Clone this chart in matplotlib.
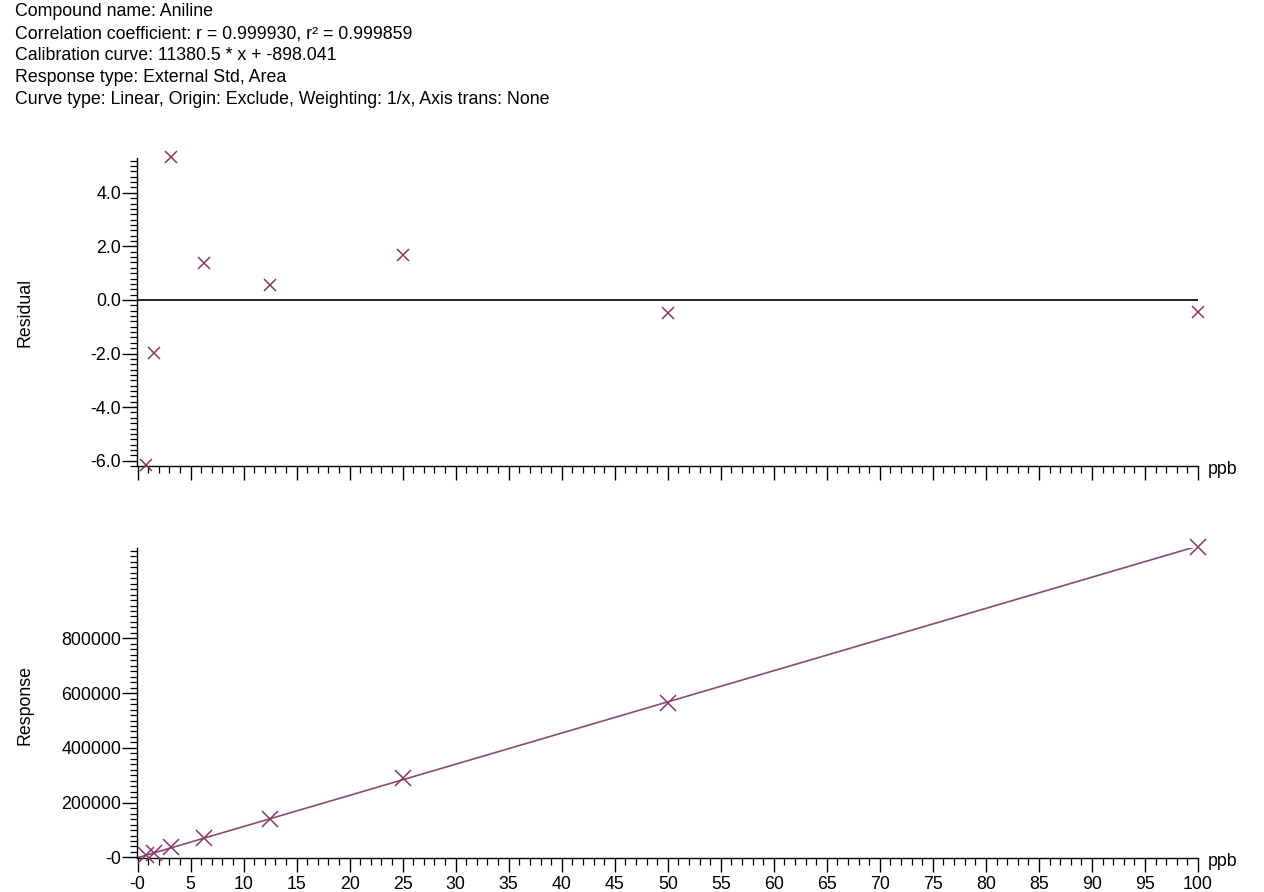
import matplotlib
matplotlib.use("Agg")
import matplotlib.pyplot as plt
from matplotlib.ticker import MultipleLocator, FixedLocator
import numpy as np

plt.rcParams['font.family'] = ['Liberation Sans', 'DejaVu Sans']

# Data
conc = [0.78125, 1.5625, 3.125, 6.25, 12.5, 25.0, 50.0, 100.0]
residual = [-6.15, -1.98, 5.34, 1.38, 0.56, 1.68, -0.49, -0.45]
response = [7497, 16546, 36517, 71199, 142150, 288379, 565343, 1132035]
slope = 11380.5
intercept = -898.041
header_lines = [
    "Compound name: Aniline",
    "Correlation coefficient: r = 0.999930, r\u00b2 = 0.999859",
    "Calibration curve: 11380.5 * x + -898.041",
    "Response type: External Std, Area",
    "Curve type: Linear, Origin: Exclude, Weighting: 1/x, Axis trans: None",
]
x_ticks = list(range(0, 101, 5))
x_ticklabels = ["-0"] + [str(v) for v in x_ticks[1:]]
res_ticks = [-6.0, -4.0, -2.0, 0.0, 2.0, 4.0]
resp_ticks = [0, 200000, 400000, 600000, 800000]
resp_ticklabels = ["-0", "200000", "400000", "600000", "800000"]

mcolor = '#8a3766'
lcolor = '#8a4a72'

fig = plt.figure(figsize=(12.64, 8.92), dpi=100)
W, H = 1264, 892

def fx(px): return px / W
def fy(py): return 1 - py / H

ax1 = fig.add_axes([fx(137), fy(466), fx(1198) - fx(137), fy(158) - fy(466)])
ax2 = fig.add_axes([fx(137), fy(858), fx(1198) - fx(137), fy(548) - fy(858)])

FS = 12.8

for ax in (ax1, ax2):
    for s in ('top', 'right'):
        ax.spines[s].set_visible(False)
    ax.spines['left'].set_linewidth(1.0)
    ax.spines['bottom'].set_linewidth(1.0)
    ax.set_xlim(-0.05, 100)
    ax.xaxis.set_major_locator(FixedLocator(x_ticks))
    ax.xaxis.set_minor_locator(MultipleLocator(1))
    ax.tick_params(axis='x', which='major', direction='out', length=10, width=1.0,
                   labelsize=FS, pad=3)
    ax.tick_params(axis='x', which='minor', direction='out', length=5, width=0.9)
    ax.tick_params(axis='y', which='major', direction='out', length=11, width=1.0,
                   labelsize=FS, pad=0.5)
    ax.tick_params(axis='y', which='minor', direction='out', length=5, width=0.9)

# Residual plot
ax1.axhline(0, color='black', lw=1.2, zorder=1)
ax1.plot(conc, residual, linestyle='none', marker='x', ms=9, mew=1.1, color=mcolor, clip_on=False, zorder=3)
ax1.set_ylim(-6.2, 5.3)
ax1.yaxis.set_major_locator(FixedLocator(res_ticks))
ax1.yaxis.set_minor_locator(MultipleLocator(0.2))
ax1.set_yticklabels([f"{v:.1f}" for v in res_ticks])
ax1.set_xticklabels([])
ax1.set_ylabel("Residual", fontsize=FS)

# Response plot
xline = np.array([0.0789, 100.0])
ax2.plot(xline, slope * xline + intercept, color=lcolor, lw=1.2, zorder=2)
ax2.plot(conc, response, linestyle='none', marker='x', ms=11, mew=1.1, color=mcolor, clip_on=False, zorder=3)
ax2.set_ylim(-2000, 1130000)
ax2.yaxis.set_major_locator(FixedLocator(resp_ticks))
ax2.yaxis.set_minor_locator(MultipleLocator(20000))
ax2.set_yticklabels(resp_ticklabels)
ax2.set_xticklabels(x_ticklabels)
ax2.set_ylabel("Response", fontsize=FS)

for ax, ycenter, axis_y in ((ax1, 312, 466), (ax2, 705, 858)):
    pos = ax.get_position()
    ax.yaxis.set_label_coords((fx(33) - pos.x0) / pos.width, (fy(ycenter) - pos.y0) / pos.height)
    fig.text(fx(1208), fy(axis_y + 4), "ppb", fontsize=FS, va='center', ha='left')

# Header
for i, line in enumerate(header_lines):
    fig.text(fx(15), fy(12 + i * 22), line, fontsize=FS, va='center', ha='left')

fig.savefig("out.png", dpi=100)
